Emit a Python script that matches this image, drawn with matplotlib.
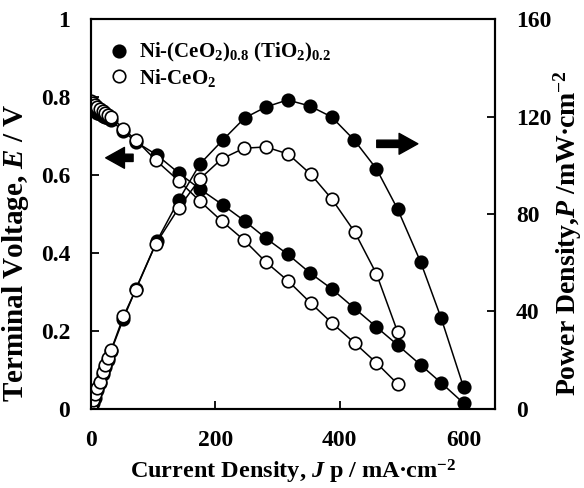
import matplotlib
matplotlib.use("Agg")
import matplotlib.pyplot as plt
from matplotlib.lines import Line2D

# fonts: bold Times-like everywhere, maths too
plt.rcParams['font.family'] = ['Liberation Serif', 'DejaVu Serif']
plt.rcParams['font.weight'] = 'bold'
plt.rcParams['axes.labelweight'] = 'bold'
plt.rcParams['mathtext.fontset'] = 'custom'
plt.rcParams['mathtext.rm'] = 'Liberation Serif:bold'
plt.rcParams['mathtext.bf'] = 'Liberation Serif:bold'
plt.rcParams['mathtext.it'] = 'Liberation Serif:bold:italic'

# Ni-(CeO2)0.8(TiO2)0.2  (filled)
fill_J = [0, 3, 6, 10, 14, 19, 23, 27, 32, 52, 72, 106, 141, 175, 212, 247,
          281, 316, 352, 387, 423, 459, 493, 530, 563, 599]
fill_E = [0.775, 0.770, 0.765, 0.760, 0.757, 0.752, 0.748, 0.745, 0.740, 0.712,
          0.685, 0.651, 0.605, 0.564, 0.523, 0.482, 0.438, 0.397, 0.349, 0.308,
          0.259, 0.210, 0.164, 0.113, 0.067, 0.015]
fill_P = [0, 2.3, 4.6, 7.6, 10.6, 14.3, 17.2, 20.1, 23.7, 37, 49.3, 69, 85.7,
          100.5, 110.4, 119.4, 123.9, 126.8, 124.3, 119.8, 110.4, 98.5, 82,
          60.3, 37.3, 9]

# Ni-CeO2  (open)
open_J = [0, 3, 6, 10, 14, 19, 23, 27, 32, 52, 72, 104, 141, 175, 210, 246,
          281, 317, 353, 387, 424, 459, 493]
open_E = [0.790, 0.785, 0.780, 0.775, 0.770, 0.765, 0.760, 0.755, 0.750, 0.718,
          0.690, 0.638, 0.585, 0.533, 0.482, 0.433, 0.377, 0.328, 0.272, 0.221,
          0.169, 0.118, 0.064]
open_P = [0.3, 3.5, 6, 8.5, 11, 15, 18, 21, 24, 38, 49, 67.7, 82.5, 94.4, 102.6,
          107, 107.5, 104.6, 96.4, 86.2, 72.6, 55.4, 31.6]

labels = ['Ni-(CeO$_2$)$_{0.8}$ (TiO$_2$)$_{0.2}$', 'Ni-CeO$_2$']

fig = plt.figure(figsize=(5.84, 4.88), dpi=100)
ax1 = fig.add_axes([0.156, 0.162, 0.692, 0.799])
ax2 = ax1.twinx()

mk = dict(marker='o', ms=9, mec='black', mew=1.2, color='black', lw=1.1)
ax1.plot(fill_J, fill_E, mfc='black', **mk)
ax1.plot(open_J, open_E, mfc='white', **mk)
ax2.plot(fill_J, fill_P, mfc='black', **mk)
ax2.plot(open_J, open_P, mfc='white', **mk)

ax1.set_xlim(0, 650)
ax1.set_ylim(0, 1)
ax2.set_ylim(0, 160)
ax1.set_xticks([0, 200, 400, 600])
ax1.set_yticks([0, 0.2, 0.4, 0.6, 0.8, 1])
ax1.set_yticklabels(['0', '0.2', '0.4', '0.6', '0.8', '1'])
ax2.set_yticks([0, 40, 80, 120, 160])

for ax in (ax1, ax2):
    for s in ax.spines.values():
        s.set_linewidth(1.5)
    ax.tick_params(direction='in', length=6, width=1.3, pad=15, labelsize=17)
ax1.tick_params(top=False, right=False)

ax1.set_xlabel('Current Density, $J$ p / mA$\\bullet$cm$^{-2}$', fontsize=17.5)
ax1.set_ylabel('Terminal Voltage, $E$ / V', fontsize=21)
ax2.set_ylabel('Power Density,$P$ /mW$\\bullet$cm$^{-2}$', fontsize=20)
ax1.xaxis.set_label_coords(0.5, -0.125)
ax1.yaxis.set_label_coords(-0.148, 0.4)
ax2.yaxis.set_label_coords(1.138, 0.45)

# direction arrows
arr = dict(arrowstyle='simple,head_width=1.0,head_length=0.9,tail_width=0.35',
           color='black', mutation_scale=15)
ax2.annotate('', xy=(19, 0.644), xytext=(72, 0.644), xycoords=ax1.transData,
             textcoords=ax1.transData, arrowprops=arr)
ax2.annotate('', xy=(530, 0.68), xytext=(455, 0.68), xycoords=ax1.transData,
             textcoords=ax1.transData, arrowprops=arr)

handles = [Line2D([], [], ls='none', marker='o', ms=9, mec='black', mew=1.2,
                  mfc=c) for c in ('black', 'white')]
ax2.legend(handles, labels, loc='upper left', bbox_to_anchor=(0.007, 0.98),
           frameon=False, fontsize=15, handlelength=1.0, handletextpad=0.45,
           labelspacing=0.1, borderaxespad=0.3)

fig.savefig('out.png', dpi=100)
